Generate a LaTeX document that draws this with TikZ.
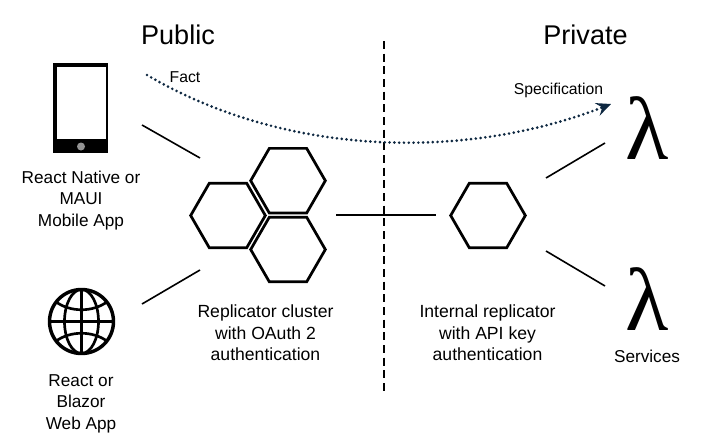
\documentclass[tikz,border=0pt]{standalone}
\usepackage{fontspec}
\setmainfont{Liberation Sans}
\newfontfamily\lamfont{Liberation Serif}
\usetikzlibrary{shapes.geometric,arrows.meta}
\definecolor{navy}{HTML}{0E2841}
\tikzset{
  hexa/.style={regular polygon,regular polygon sides=6,draw=black,line width=2.05pt,minimum size=56pt,inner sep=0pt,outer sep=0pt,line join=miter},
  link/.style={draw=black,line width=1.2pt},
  label/.style={align=center,inner sep=0pt,font=\fontsize{13.2}{16.1}\selectfont},
  sidelabel/.style={label,font=\fontsize{12.9}{16.1}\selectfont},
  head/.style={inner sep=0pt,font=\fontsize{20.3}{24}\selectfont},
  small/.style={inner sep=0pt,font=\fontsize{11.8}{14}\selectfont},
  lam/.style={inner sep=0pt,anchor=base,text height=44pt,text depth=0pt,font=\fontsize{67}{67}\lamfont},
  globeline/.style={draw=black,line width=2pt},
}
\begin{document}
\begin{tikzpicture}[x=0.75pt,y=-0.75pt]
\useasboundingbox (0,0) rectangle (705,446);
% titles
\node[head] (public) at (178,34.5) {Public};
\node[head] (private) at (585.5,34.5) {Private};
% divider
\coordinate (divtop) at (384,41);
\coordinate (divbot) at (384,393);
\draw[black,line width=1.2pt,dash pattern=on 6pt off 3.5pt] (divtop) -- (divbot);
% phone
\fill[black] (53,63) rectangle (108,153);
\fill[white] (56.5,66.5) rectangle (105.5,139);
\fill[gray!85] (81,146.5) circle (4);
% globe
\draw[globeline,line width=2.6pt] (81.5,321.5) circle (32);
\draw[globeline] (81.5,321.5) ellipse (17 and 32);
\draw[globeline] (81.5,289.5) -- (81.5,353.5);
\draw[globeline] (49.5,321.5) -- (113.5,321.5);
\draw[globeline] (55.5,301.5) .. controls (70,312.5) and (93,312.5) .. (107.5,301.5);
\draw[globeline] (55.5,341.5) .. controls (70,330.5) and (93,330.5) .. (107.5,341.5);
% hexagons
\node[hexa] (hexleft) at (228,215.5) {};
\node[hexa] (hextop) at (288,180.7) {};
\node[hexa] (hexbot) at (288,249.5) {};
\node[hexa] (hexint) at (488,215.5) {};
% lambdas
\node[lam] (lamtop) at (647.5,159.5) {λ};
\node[lam] (lambot) at (647.5,330.5) {λ};
% connectors
\coordinate (pa) at (142,125); \coordinate (pb) at (200,158);
\coordinate (wa) at (142,304); \coordinate (wb) at (200,270);
\coordinate (ha) at (336,215); \coordinate (hb) at (436,215);
\coordinate (sa) at (546,178); \coordinate (sb) at (605,143);
\coordinate (ta) at (546,251); \coordinate (tb) at (605,286);
\draw[link] (pa) -- (pb);
\draw[link] (wa) -- (wb);
\draw[link] (ha) -- (hb);
\draw[link] (sa) -- (sb);
\draw[link] (ta) -- (tb);
% dotted curve
\coordinate (fa) at (147,75); \coordinate (fb) at (611,104);
\draw[navy,line width=2.2pt,line cap=round,dash pattern=on 0pt off 3.6pt,
  -{Stealth[length=11pt,width=10pt,inset=4pt,line cap=butt]}]
  (fa) .. controls (290,159) and (470,159) .. (fb);
% labels
\node[small] (fact) at (185,77) {Fact};
\node[small] (spec) at (558.5,90.5) {Specification};
\node[sidelabel] (lmob) at (81,200.5) {React Native or\\MAUI\\Mobile App};
\node[sidelabel] (lweb) at (81,403.5) {React or\\Blazor\\Web App};
\node[label] (lclu) at (265.5,333) {Replicator cluster\\with OAuth 2\\authentication};
\node[label] (lint) at (487.5,333) {Internal replicator\\with API key\\authentication};
\node[sidelabel] (lsvc) at (647,356.5) {Services};
\end{tikzpicture}
\end{document}
